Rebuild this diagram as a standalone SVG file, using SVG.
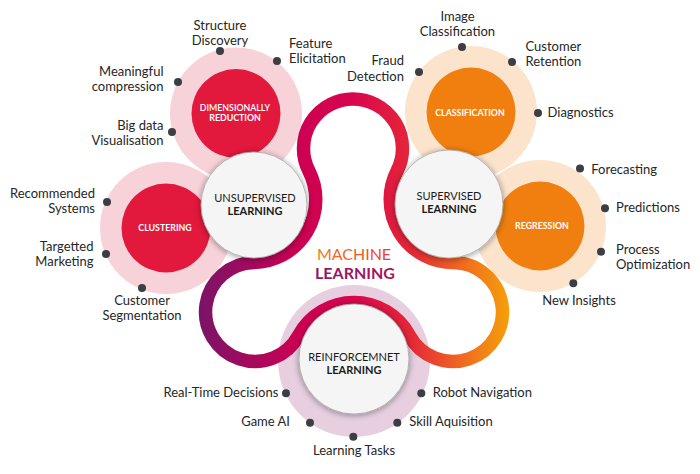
<svg xmlns="http://www.w3.org/2000/svg" width="700" height="474" viewBox="0 0 700 474">
<defs>
<style>
.lbl{font-family:Lato,"Liberation Sans",sans-serif;font-size:13px;fill:#262626}
.dot{fill:#3b3e44}
.ct{font-family:Lato,"Liberation Sans",sans-serif;font-size:8.8px;fill:#fff;font-weight:700;text-anchor:middle}
.wt{font-family:Lato,"Liberation Sans",sans-serif;font-size:11px;fill:#1a1a1a;text-anchor:middle}
.wc{fill:#f5f5f5;stroke:#a5a5a5;stroke-width:0.8}
.pink{fill:#f8d2d9}
.peach{fill:#fce4cc}
.mauve{fill:#e7cfe0}
.red{fill:#e2183d}
.orange{fill:#f07f0f}
</style>
<linearGradient id="band" gradientUnits="userSpaceOnUse" x1="199" y1="0" x2="509" y2="0">
<stop offset="0" stop-color="#7a1468"/>
<stop offset="0.32" stop-color="#cc0052"/>
<stop offset="0.5" stop-color="#d9064e"/>
<stop offset="0.68" stop-color="#e52638"/>
<stop offset="0.85" stop-color="#ef6a20"/>
<stop offset="1" stop-color="#f6a00a"/>
</linearGradient>
<linearGradient id="gM" x1="0" y1="0" x2="1" y2="0">
<stop offset="0" stop-color="#f47a20"/>
<stop offset="1" stop-color="#ea3d36"/>
</linearGradient>
<linearGradient id="gL" x1="0" y1="0" x2="1" y2="0">
<stop offset="0" stop-color="#861b6c"/>
<stop offset="1" stop-color="#a8145c"/>
</linearGradient>
<filter id="sh" x="-30%" y="-30%" width="160%" height="160%">
<feDropShadow dx="0" dy="1" stdDeviation="3" flood-color="#000" flood-opacity="0.4"/>
</filter>
</defs>

<g id="rings">
<circle class="pink" cx="236" cy="113.5" r="66"/>
<circle class="pink" cx="166" cy="228" r="66"/>
<circle class="peach" cx="471" cy="112" r="66"/>
<circle class="peach" cx="540" cy="226" r="66"/>
<circle class="mauve" cx="354" cy="361" r="76"/>
</g>

<g id="node-dimensionally-reduction">
<circle class="red" cx="236" cy="113.5" r="44.5"/>
<text class="ct"><tspan x="235" y="110.7" font-weight="600">DIMENSIONALLY</tspan><tspan x="235" y="120.9">REDUCTION</tspan></text>
</g>
<g id="node-clustering">
<circle class="red" cx="166" cy="228" r="44.5"/>
<text class="ct" x="165" y="230.9">CLUSTERING</text>
</g>
<g id="node-classification">
<circle class="orange" cx="471" cy="112" r="44.5"/>
<text class="ct" x="470" y="115.7">CLASSIFICATION</text>
</g>
<g id="node-regression">
<circle class="orange" cx="540" cy="226" r="44.5"/>
<text class="ct" x="542" y="228.5">REGRESSION</text>
</g>

<g id="connectors">
<path d="M308.9 170.9 A49.5 49.5 0 1 1 397.1 170.9 A63 63 0 0 0 453.1 262.5 A49.5 49.5 0 1 1 409.4 335.5 A63 63 0 0 0 298.6 335.5 A49.5 49.5 0 1 1 254 262.5 A63 63 0 0 0 308.9 170.9 Z" fill="none" stroke="url(#band)" stroke-width="13.5"/>
</g>

<g id="node-unsupervised">
<circle class="wc" cx="254" cy="205" r="53" filter="url(#sh)"/>
<text class="wt"><tspan x="255" y="201.7">UNSUPERVISED</tspan><tspan x="255" y="215" font-weight="700">LEARNING</tspan></text>
</g>
<g id="node-supervised">
<circle class="wc" cx="449" cy="204" r="54" filter="url(#sh)"/>
<text class="wt"><tspan x="449" y="200">SUPERVISED</tspan><tspan x="449" y="213" font-weight="700">LEARNING</tspan></text>
</g>
<g id="node-reinforcement">
<circle class="wc" cx="354" cy="359" r="55" filter="url(#sh)"/>
<text class="wt"><tspan x="354" y="360.7">REINFORCEMNET</tspan><tspan x="354" y="373.5" font-weight="700">LEARNING</tspan></text>
</g>

<g id="node-title">
<text x="354" y="260" text-anchor="middle" font-family="Lato,'Liberation Sans',sans-serif" font-size="16" fill="url(#gM)">MACHINE</text>
<text x="355" y="278.5" text-anchor="middle" font-family="Lato,'Liberation Sans',sans-serif" font-size="16" font-weight="700" fill="url(#gL)">LEARNING</text>
</g>

<g id="leaf-structure-discovery"><circle class="dot" cx="220" cy="51" r="4"/><text class="lbl" text-anchor="middle"><tspan x="220" y="29.5">Structure</tspan><tspan x="220" y="44.5">Discovery</tspan></text></g>
<g id="leaf-feature-elicitation"><circle class="dot" cx="277" cy="61" r="4"/><text class="lbl"><tspan x="289" y="47.7">Feature</tspan><tspan x="289" y="63">Elicitation</tspan></text></g>
<g id="leaf-meaningful-compression"><circle class="dot" cx="178" cy="82" r="4"/><text class="lbl" text-anchor="end"><tspan x="163.5" y="76">Meaningful</tspan><tspan x="163.5" y="90.7">compression</tspan></text></g>
<g id="leaf-big-data"><circle class="dot" cx="172" cy="132" r="4"/><text class="lbl" text-anchor="end"><tspan x="163.5" y="130">Big data</tspan><tspan x="163.5" y="144.5">Visualisation</tspan></text></g>
<g id="leaf-recommended"><circle class="dot" cx="107" cy="202" r="4"/><text class="lbl" text-anchor="end"><tspan x="95" y="197.5">Recommended</tspan><tspan x="95" y="212.7">Systems</tspan></text></g>
<g id="leaf-targetted"><circle class="dot" cx="106" cy="254" r="4"/><text class="lbl" text-anchor="end"><tspan x="93.5" y="251">Targetted</tspan><tspan x="93.5" y="265.5">Marketing</tspan></text></g>
<g id="leaf-segmentation"><circle class="dot" cx="142" cy="288" r="4"/><text class="lbl" text-anchor="middle"><tspan x="142" y="305.3">Customer</tspan><tspan x="142" y="320">Segmentation</tspan></text></g>

<g id="leaf-image-classification"><circle class="dot" cx="462" cy="47" r="4"/><text class="lbl" text-anchor="middle"><tspan x="457.5" y="20.7">Image</tspan><tspan x="457.5" y="36">Classification</tspan></text></g>
<g id="leaf-customer-retention"><circle class="dot" cx="512" cy="62" r="4"/><text class="lbl"><tspan x="525.5" y="51">Customer</tspan><tspan x="525.5" y="66">Retention</tspan></text></g>
<g id="leaf-fraud-detection"><circle class="dot" cx="419" cy="72" r="4"/><text class="lbl" text-anchor="end"><tspan x="404" y="65">Fraud</tspan><tspan x="404" y="80.5">Detection</tspan></text></g>
<g id="leaf-diagnostics"><circle class="dot" cx="538" cy="113" r="4"/><text class="lbl" x="547.5" y="117">Diagnostics</text></g>
<g id="leaf-forecasting"><circle class="dot" cx="580" cy="168.5" r="4"/><text class="lbl" x="591.3" y="174">Forecasting</text></g>
<g id="leaf-predictions"><circle class="dot" cx="605" cy="208.3" r="4"/><text class="lbl" x="616" y="212.3">Predictions</text></g>
<g id="leaf-process-optimization"><circle class="dot" cx="601" cy="251.7" r="4"/><text class="lbl"><tspan x="616" y="254.3">Process</tspan><tspan x="616" y="269.3">Optimization</tspan></text></g>
<g id="leaf-new-insights"><circle class="dot" cx="573.3" cy="283.3" r="4"/><text class="lbl" x="579" y="305.3" text-anchor="middle">New Insights</text></g>

<g id="leaf-real-time"><circle class="dot" cx="286" cy="393.3" r="4"/><text class="lbl" x="278.3" y="397" text-anchor="end">Real-Time Decisions</text></g>
<g id="leaf-game-ai"><circle class="dot" cx="310" cy="422.7" r="4"/><text class="lbl" x="290" y="426.3" text-anchor="end">Game AI</text></g>
<g id="leaf-learning-tasks"><circle class="dot" cx="353.3" cy="436.7" r="4"/><text class="lbl" x="354" y="455" text-anchor="middle">Learning Tasks</text></g>
<g id="leaf-skill"><circle class="dot" cx="397.3" cy="422.7" r="4"/><text class="lbl" x="409.3" y="426.3">Skill Aquisition</text></g>
<g id="leaf-robot"><circle class="dot" cx="421.3" cy="393.3" r="4"/><text class="lbl" x="432.7" y="397">Robot Navigation</text></g>
</svg>
